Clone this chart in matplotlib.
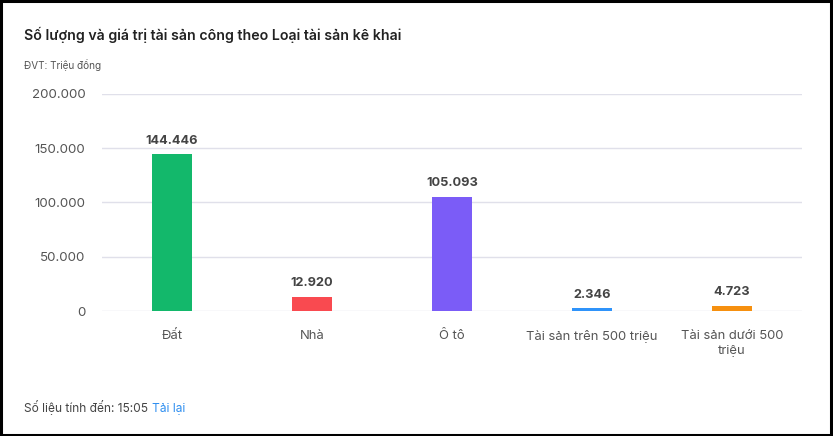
import matplotlib
matplotlib.use('Agg')
import matplotlib.pyplot as plt
from matplotlib.ticker import FuncFormatter

# ---------------------------------------------------------
# Data
# ---------------------------------------------------------
categories = ['Đất', 'Nhà', 'Ô tô', 'Tài sản trên 500 triệu', 'Tài sản dưới 500\ntriệu']
values = [144446, 12920, 105093, 2346, 4723]
colors = ['#13b86b', '#f94a50', '#7b5cf7', '#2f93fa', '#f6900f']
y_ticks = [0, 50000, 100000, 150000, 200000]

plt.rcParams['font.family'] = ['Inter', 'DejaVu Sans']


def fmt_vn(v):
    return f"{int(v):,}".replace(',', '.')


W, H = 833, 436
fig = plt.figure(figsize=(W / 100, H / 100), dpi=100)
fig.patch.set_facecolor('white')

# black frame around the card
frame = plt.Rectangle((0.001, 0.003), 0.996, 0.994, transform=fig.transFigure,
                      fill=False, edgecolor='black', linewidth=2.2)
fig.add_artist(frame)

ax = fig.add_axes([102 / W, (H - 311) / H, 700 / W, (311 - 94) / H])
x = list(range(len(categories)))
bars = ax.bar(x, values, width=0.285, color=colors, zorder=3)

ax.set_xlim(-0.5, len(categories) - 0.5)
ax.set_ylim(0, 200000)
ax.set_yticks(y_ticks)
ax.yaxis.set_major_formatter(FuncFormatter(lambda v, p: fmt_vn(v)))
ax.grid(axis='y', color='#e0e0ea', linewidth=1, zorder=0)
for s in ax.spines.values():
    s.set_visible(False)
ax.tick_params(axis='y', length=0, pad=12, labelsize=9.6, labelcolor='#555555')
ax.tick_params(axis='x', length=0, pad=14, labelsize=9.4, labelcolor='#555555')
ax.set_xticks(x)
ax.set_xticklabels(categories, va='top', linespacing=1.25)

for b, v in zip(bars, values):
    ax.annotate(fmt_vn(v), (b.get_x() + b.get_width() / 2, v),
                xytext=(0, 5.5), textcoords='offset points', ha='center', va='bottom',
                fontsize=9.2, fontweight='bold', color='#444444')

fig.text(24 / W, 1 - 35 / H, 'Số lượng và giá trị tài sản công theo Loại tài sản kê khai',
         fontsize=10.2, fontweight='semibold', color='#222222', va='center')
fig.text(24 / W, 1 - 65 / H, 'ĐVT: Triệu đồng', fontsize=7.2, color='#555555', va='center')
t = fig.text(24 / W, 1 - 412 / H, 'Số liệu tính đến: 15:05', fontsize=8.6,
             color='#444444', va='baseline')
fig.canvas.draw()
bb = t.get_window_extent()
fig.text((bb.x1 + 4) / W, 1 - 412 / H, 'Tải lại', fontsize=8.6, color='#2f8ff0',
         va='baseline')

fig.savefig('out.png', dpi=100, facecolor='white')
